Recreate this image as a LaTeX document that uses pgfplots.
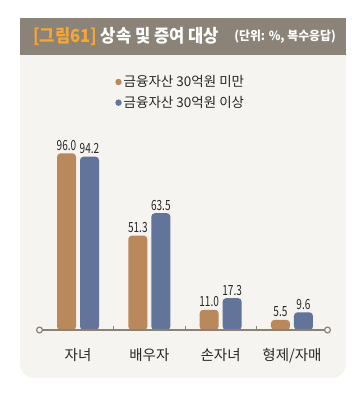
\documentclass[border=0pt]{standalone}
\usepackage{pgfplots}
\pgfplotsset{compat=1.18}
\usepackage{fontspec}
\setmainfont{Noto Sans CJK KR}
\usetikzlibrary{arrows.meta}
\definecolor{titlebar}{RGB}{139,131,119}
\definecolor{titleorange}{RGB}{245,166,52}
\definecolor{panel}{RGB}{246,244,240}
\definecolor{barorange}{RGB}{185,137,91}
\definecolor{barblue}{RGB}{98,116,153}
\definecolor{axisgray}{RGB}{138,130,117}
\definecolor{textdark}{RGB}{40,40,40}
\begin{document}
\begin{tikzpicture}
\fill[white] (0pt,0pt) rectangle (363pt,399pt);
\fill[panel, rounded corners=14pt] (20pt,21pt) rectangle (346pt,360pt);
\fill[titlebar] (20pt,344pt) rectangle (346pt,381pt);
\node[anchor=west, text=white, inner sep=0pt, xscale=0.92] at (33pt,362.5pt)
  {\fontsize{18}{18}\selectfont\bfseries\textcolor{titleorange}{[그림61]} 상속 및 증여 대상};
\node[anchor=east, text=white, inner sep=0pt, xscale=0.95] at (336pt,362.5pt)
  {\fontsize{12.5}{12.5}\selectfont\bfseries (단위: \%, 복수응답)};
\begin{axis}[
  at={(36pt,69pt)}, anchor=south west,
  scale only axis, width=295pt, height=184pt,
  xmin=-0.589, xmax=3.547, ymin=0, ymax=100,
  ybar=4pt, bar width=19pt,
  axis x line*=bottom, axis y line=none,
  x axis line style={draw=axisgray, line width=1.3pt, {Circle[open,length=7pt,width=7pt,line width=1.2pt]}-{Circle[open,length=7pt,width=7pt,line width=1.2pt]}},
  xtick={0,1,2,3},
  xticklabels={자녀,배우자,손자녀,형제/자매},
  major tick length=0pt,
  xticklabel style={font=\fontsize{14.5}{14.5}\selectfont, text=textdark, yshift=-15pt},
  extra x ticks={0.5,1.5,2.5},
  extra x tick labels={},
  extra x tick style={major tick length=4pt, tick align=inside, tick style={draw=axisgray, line width=0.8pt}},
  ytick=\empty,
  axis on top,
  nodes near coords,
  /pgf/number format/assume math mode=true,
  /pgf/number format/.cd, fixed, fixed zerofill, precision=1, /pgfplots/.cd,
  nodes near coords style={font=\fontsize{14}{14}\selectfont, text=textdark, inner sep=2.5pt},
  every node near coord/.append style={xscale=0.72},
  legend style={at={(0.258,1.405)}, anchor=north west, draw=none, fill=none,
    font=\fontsize{13.5}{13.5}\selectfont, text=textdark, row sep=4pt,
    /tikz/every even column/.append style={column sep=2pt}},
  legend cell align=left,
]
\addplot[fill=barorange, draw=none, rounded corners=3.5pt,
  legend image code/.code={\fill[barorange] (0pt,0pt) circle (3.2pt);}]
  coordinates {(0,96.0) (1,51.3) (2,11.0) (3,5.5)};
\addplot[fill=barblue, draw=none, rounded corners=3.5pt,
  legend image code/.code={\fill[barblue] (0pt,0pt) circle (3.2pt);}]
  coordinates {(0,94.2) (1,63.5) (2,17.3) (3,9.6)};
\legend{금융자산 30억원 미만, 금융자산 30억원 이상}
\end{axis}
\end{tikzpicture}
\end{document}
